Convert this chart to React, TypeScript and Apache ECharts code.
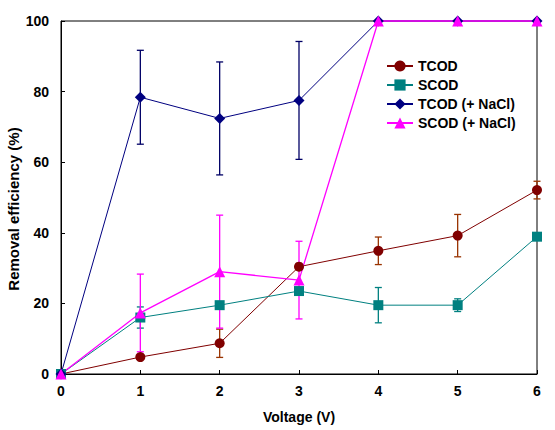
import React, { useEffect, useRef } from "react";
import * as echarts from "echarts";

const voltage = [0, 1, 2, 3, 4, 5, 6];
const tcod = [0, 4.8, 8.7, 30.4, 34.9, 39.2, 52.1];
const scod = [0, 16.0, 19.5, 23.5, 19.5, 19.5, 38.9];
const tcodNaCl = [0, 78.4, 72.4, 77.5, 100, 100, 100];
const scodNaCl = [0, 17.3, 29.0, 26.6, 100, 100, 100];

const tcodErr = [0, 0, 4.0, 0, 3.9, 6.0, 2.5];
const scodErr = [0, 3.0, 0, 0, 5.0, 1.8, 0];
const tcodNaClErr = [0, 13.3, 16.0, 16.7, 0, 0, 0];
const scodNaClErr = [0, 11.0, 16.0, 11.0, 0, 0, 0];

const seriesNames = ["TCOD", "SCOD", "TCOD (+ NaCl)", "SCOD (+ NaCl)"];
const yTicks = [0, 20, 40, 60, 80, 100];

const FONT = "'Liberation Sans', Arial, sans-serif";

export default function App() {
  const ref = useRef<HTMLDivElement>(null);

  useEffect(() => {
    document.body.style.margin = "0";
    if (!ref.current) return;
    const chart = echarts.init(ref.current, null, { renderer: "svg" });

    const pts = (ys: number[]) => voltage.map((v, i) => [v, ys[i]]);
    const errPts = (ys: number[], es: number[]) =>
      voltage
        .map((v, i) => (es[i] > 0 ? [v, ys[i] - es[i], ys[i] + es[i]] : null))
        .filter((d) => d !== null);

    const errSeries = (name: string, ys: number[], es: number[], color: string) => ({
      type: "custom",
      name,
      z: 1,
      data: errPts(ys, es),
      encode: { x: 0, y: [1, 2] },
      clip: false,
      renderItem: (params: any, api: any) => {
        const x = api.value(0);
        const lo = api.value(1);
        const hi = api.value(2);
        const p1 = api.coord([x, lo]);
        const p2 = api.coord([x, hi]);
        const w = 3.5;
        const style = { stroke: color, lineWidth: 1.3 };
        return {
          type: "group",
          children: [
            { type: "line", shape: { x1: p1[0], y1: p1[1], x2: p2[0], y2: p2[1] }, style },
            { type: "line", shape: { x1: p1[0] - w, y1: p1[1], x2: p1[0] + w, y2: p1[1] }, style },
            { type: "line", shape: { x1: p2[0] - w, y1: p2[1], x2: p2[0] + w, y2: p2[1] }, style },
          ],
        };
      },
    });

    const lineSeries = (
      name: string,
      ys: number[],
      color: string,
      symbol: string,
      size: number,
      lw: number
    ) => ({
      type: "line",
      name,
      z: 3,
      data: pts(ys),
      symbol,
      symbolSize: size,
      clip: false,
      lineStyle: { color, width: lw },
      itemStyle: { color },
    });

    chart.setOption({
      animation: false,
      backgroundColor: "#fff",
      grid: {
        left: 61,
        right: 18,
        top: 21,
        bottom: 56,
        show: true,
        borderColor: "#000",
        borderWidth: 1,
        outerBoundsMode: "none",
        containLabel: false,
      },
      legend: {
        data: seriesNames,
        orient: "vertical",
        left: 381,
        top: 54,
        itemWidth: 26,
        itemHeight: 14,
        itemGap: 5,
        textStyle: { fontFamily: FONT, fontWeight: "bold", fontSize: 14, color: "#000" },
      },
      xAxis: {
        type: "value",
        min: 0,
        max: 6,
        interval: 1,
        name: "Voltage (V)",
        nameLocation: "middle",
        nameGap: 36,
        nameMoveOverlap: false,
        nameTextStyle: { fontFamily: FONT, fontWeight: "bold", fontSize: 14, color: "#000" },
        axisLine: { lineStyle: { color: "#000", width: 1 } },
        axisTick: { inside: true, length: 4, lineStyle: { color: "#000" } },
        axisLabel: { margin: 10, fontFamily: FONT, fontWeight: "bold", fontSize: 14, color: "#000" },
        splitLine: { show: false },
      },
      yAxis: {
        type: "value",
        min: 0,
        max: 100,
        interval: 20,
        name: "Removal efficiency (%)",
        nameLocation: "middle",
        nameGap: 40,
        nameMoveOverlap: false,
        nameTextStyle: {
          fontFamily: FONT,
          fontWeight: "bold",
          fontSize: 15,
          color: "#000",
          padding: [0, 23, 0, 0],
        },
        axisLine: { lineStyle: { color: "#000", width: 1 } },
        axisTick: { inside: true, length: 4, lineStyle: { color: "#000" } },
        axisLabel: {
          margin: 12,
          fontFamily: FONT,
          fontWeight: "bold",
          fontSize: 14,
          color: "#000",
          formatter: (v: number) => (yTicks.includes(v) ? String(v) : ""),
        },
        splitLine: { show: false },
      },
      series: [
        errSeries("errTCOD", tcod, tcodErr, "#993300"),
        errSeries("errSCOD", scod, scodErr, "#008080"),
        errSeries("errTCODNaCl", tcodNaCl, tcodNaClErr, "#000066"),
        errSeries("errSCODNaCl", scodNaCl, scodNaClErr, "#FF00FF"),
        lineSeries(seriesNames[0], tcod, "#800000", "circle", 10, 1),
        lineSeries(seriesNames[1], scod, "#008080", "rect", 10, 1),
        lineSeries(seriesNames[2], tcodNaCl, "#000080", "diamond", 11, 1),
        lineSeries(seriesNames[3], scodNaCl, "#FF00FF", "triangle", 11, 1.3),
      ],
    });

    return () => chart.dispose();
  }, []);

  return <div ref={ref} style={{ width: 555, height: 430 }} />;
}

const _unused = React;
